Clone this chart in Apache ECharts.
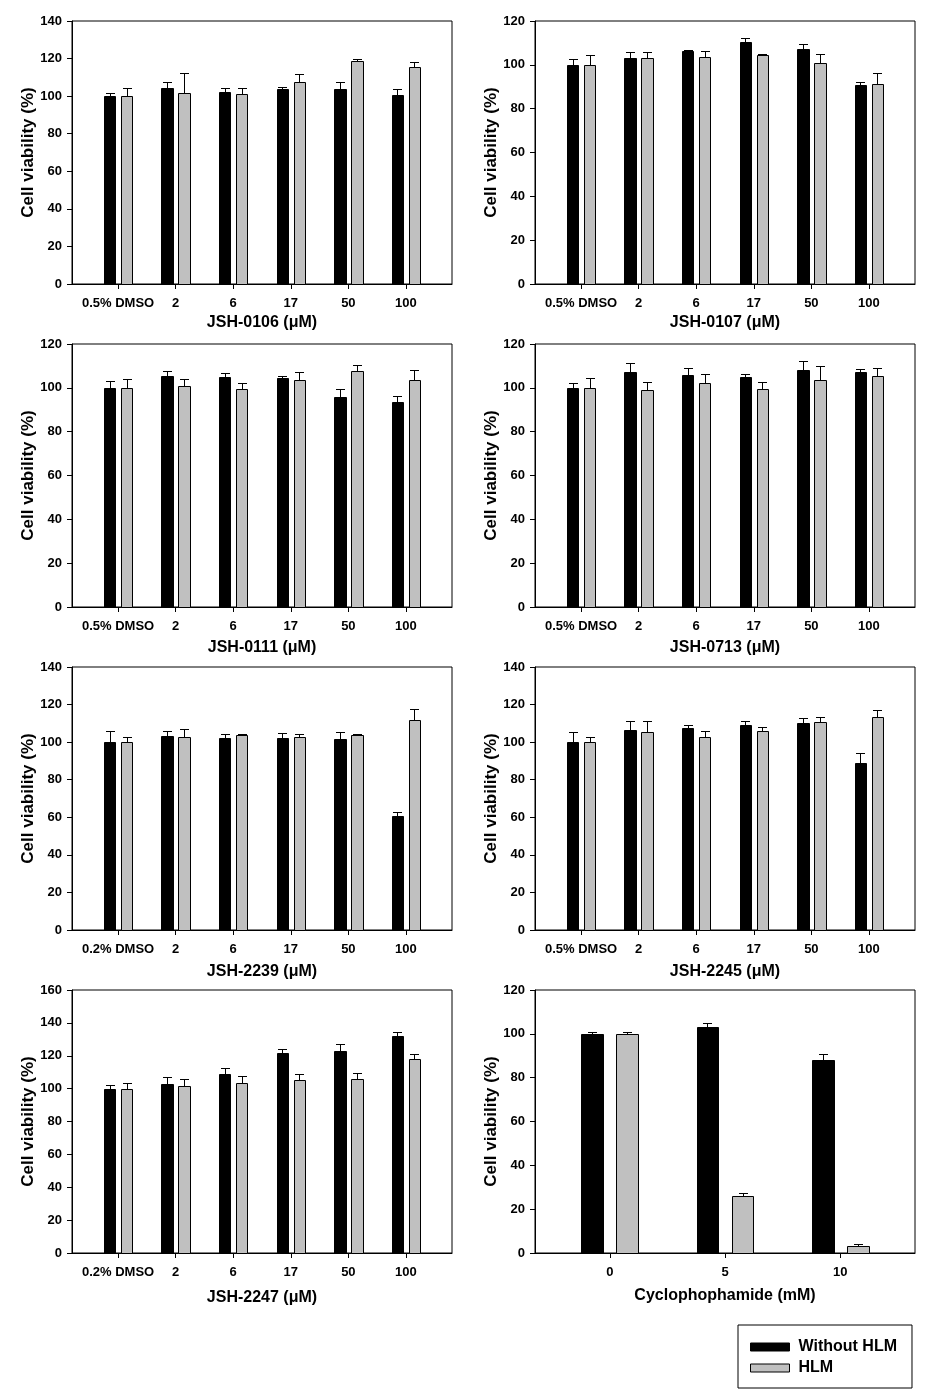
<!DOCTYPE html>
<html><head><meta charset="utf-8">
<script src="https://cdn.jsdelivr.net/npm/echarts@6/dist/echarts.min.js"></script>
<style>html,body{margin:0;padding:0;background:#fff}#c{width:936px;height:1399px}</style>
</head><body><div id="c"></div>
<script>
// ---------- data ----------
const cats05 = ['0.5% DMSO', '2', '6', '17', '50', '100'];
const cats02 = ['0.2% DMSO', '2', '6', '17', '50', '100'];
const catsCyclo = ['0', '5', '10'];
const seriesNames = ['Without HLM', 'HLM'];

const jsh0106Without = [100, 104.5, 102.4, 103.8, 103.8, 100.6];
const jsh0106WithoutErr = [1.5, 3, 1.9, 1.1, 3.7, 3];
const jsh0106Hlm = [100, 101.7, 101.1, 107.5, 118.7, 115.5];
const jsh0106HlmErr = [4.2, 10.6, 3, 4.3, 0.9, 2.7];

const jsh0107Without = [100, 103.1, 106.5, 110.4, 107.2, 90.8];
const jsh0107WithoutErr = [2.7, 2.8, 0.2, 1.7, 2.3, 1.4];
const jsh0107Hlm = [100, 103.1, 103.6, 104.5, 100.8, 91.3];
const jsh0107HlmErr = [4.5, 2.8, 2.6, 0.3, 4.1, 5];

const jsh0111Without = [100, 105.4, 104.9, 104.6, 95.8, 93.5];
const jsh0111WithoutErr = [3.1, 2.3, 1.9, 0.8, 3.7, 2.8];
const jsh0111Hlm = [100, 100.8, 99.5, 103.6, 107.7, 103.6];
const jsh0111HlmErr = [4, 3.2, 2.6, 3.6, 2.7, 4.5];

const jsh0713Without = [100, 107.2, 105.9, 104.9, 108.1, 107.2];
const jsh0713WithoutErr = [2.2, 4.1, 3, 1.2, 4.1, 1.2];
const jsh0713Hlm = [100, 99, 102.2, 99.5, 103.6, 105.4];
const jsh0713HlmErr = [4.5, 3.7, 4.1, 3.2, 6.4, 3.5];

const jsh2239Without = [100, 103.2, 102.1, 102.1, 101.6, 60.8];
const jsh2239WithoutErr = [5.9, 2.7, 2.2, 2.7, 3.7, 1.9];
const jsh2239Hlm = [100, 102.7, 103.7, 102.7, 103.7, 111.7];
const jsh2239HlmErr = [3, 4.1, 0.4, 1.6, 0.9, 5.9];

const jsh2245Without = [100, 106.5, 107.5, 109.1, 110.2, 88.9];
const jsh2245WithoutErr = [5.3, 4.7, 1.4, 2, 2.6, 5.1];
const jsh2245Hlm = [100, 105.4, 102.7, 105.9, 110.7, 113.4];
const jsh2245HlmErr = [3, 5.8, 3.2, 2, 2.5, 3.5];

const jsh2247Without = [100, 102.8, 108.9, 121.7, 122.9, 132];
const jsh2247WithoutErr = [2.4, 4, 3.7, 2.4, 4.3, 2.4];
const jsh2247Hlm = [100, 101.4, 103.4, 105.3, 105.9, 118];
const jsh2247HlmErr = [3.4, 4.5, 4.1, 3.4, 3.6, 3];

const cycloWithout = [100, 103.1, 88.1];
const cycloWithoutErr = [0.9, 1.8, 2.7];
const cycloHlm = [100, 26, 3.2];
const cycloHlmErr = [0.9, 1.5, 0.9];

const yTitle = 'Cell viability (%)';
const xTitles = ['JSH-0106 (μM)', 'JSH-0107 (μM)', 'JSH-0111 (μM)', 'JSH-0713 (μM)',
                 'JSH-2239 (μM)', 'JSH-2245 (μM)', 'JSH-2247 (μM)', 'Cyclophophamide (mM)'];
const yMax = [140, 120, 120, 120, 140, 140, 160, 120];

const panels = [
  {cats: cats05, w: jsh0106Without, we: jsh0106WithoutErr, h: jsh0106Hlm, he: jsh0106HlmErr},
  {cats: cats05, w: jsh0107Without, we: jsh0107WithoutErr, h: jsh0107Hlm, he: jsh0107HlmErr},
  {cats: cats05, w: jsh0111Without, we: jsh0111WithoutErr, h: jsh0111Hlm, he: jsh0111HlmErr},
  {cats: cats05, w: jsh0713Without, we: jsh0713WithoutErr, h: jsh0713Hlm, he: jsh0713HlmErr},
  {cats: cats02, w: jsh2239Without, we: jsh2239WithoutErr, h: jsh2239Hlm, he: jsh2239HlmErr},
  {cats: cats05, w: jsh2245Without, we: jsh2245WithoutErr, h: jsh2245Hlm, he: jsh2245HlmErr},
  {cats: cats02, w: jsh2247Without, we: jsh2247WithoutErr, h: jsh2247Hlm, he: jsh2247HlmErr},
  {cats: catsCyclo, w: cycloWithout, we: cycloWithoutErr, h: cycloHlm, he: cycloHlmErr}
];

// ---------- layout / style ----------
const FONT = '"Liberation Sans", Arial, sans-serif';
const colLeft = [72, 535];
const rowTop = [21, 344, 667, 990];
const gridW = 380, gridH = 263;
const xNameGap = [31, 31, 33, 33, 34, 34, 37, 35];
const colors = ['#000000', '#c0c0c0'];

function makeRender(offset, width, color) {
  return function (params, api) {
    const x = api.value(0) + offset;
    const v = api.value(1);
    const e = api.value(2);
    const pL = api.coord([x - width / 2, 0]);
    const pR = api.coord([x + width / 2, v]);
    const pc = api.coord([x, v]);
    const pe = api.coord([x, v + e]);
    const x0 = Math.round(pL[0]) + 0.5, x1 = Math.round(pR[0]) + 0.5;
    const yb = Math.round(pL[1]) + 0.5, yt = Math.round(pR[1]) + 0.5;
    const xc = Math.round(pc[0]) + 0.5;
    const ye = Math.round(pe[1]) + 0.5;
    return {
      type: 'group',
      children: [
        {type: 'line', shape: {x1: xc, y1: yt, x2: xc, y2: ye}, style: {stroke: '#000', lineWidth: 1}},
        {type: 'line', shape: {x1: xc - 4.5, y1: ye, x2: xc + 4.5, y2: ye}, style: {stroke: '#000', lineWidth: 1}},
        {type: 'rect', shape: {x: x0, y: yt, width: x1 - x0, height: yb - yt},
         style: {fill: color, stroke: '#000', lineWidth: 1}}
      ]
    };
  };
}

const grids = [], xAxes = [], yAxes = [], series = [];
panels.forEach((p, i) => {
  const col = i % 2, row = Math.floor(i / 2);
  const n = p.cats.length;
  const pad = n === 3 ? 0.65 : 0.8;
  const barW = n === 3 ? 0.19 : 0.2;
  const off = n === 3 ? 0.152 : 0.148;
  grids.push({left: colLeft[col], top: rowTop[row], width: gridW, height: gridH,
    show: true, borderColor: '#000', borderWidth: 1, backgroundColor: 'transparent'});
  const idx = p.cats.map((c, k) => k);
  xAxes.push({
    type: 'value', gridIndex: i, min: -pad, max: n - 1 + pad, position: 'bottom',
    name: xTitles[i], nameLocation: 'middle', nameGap: xNameGap[i],
    nameTextStyle: {fontFamily: FONT, fontWeight: 'bold', fontSize: 16, color: '#000'},
    axisLine: {show: true, onZero: false, lineStyle: {color: '#000', width: 1}},
    axisTick: {show: true, inside: false, length: 5, lineStyle: {color: '#000'}, customValues: idx},
    axisLabel: {show: true, customValues: idx, margin: 13, fontFamily: FONT, fontWeight: 'bold', fontSize: 13, color: '#000',
      formatter: (val) => p.cats[Math.round(val)]},
    splitLine: {show: false}
  });
  yAxes.push({
    type: 'value', gridIndex: i, min: 0, max: yMax[i], interval: 20, position: 'left',
    name: yTitle, nameLocation: 'middle', nameGap: 34, nameRotate: 90,
    nameTextStyle: {fontFamily: FONT, fontWeight: 'bold', fontSize: 17, color: '#000'},
    axisLine: {show: true, onZero: false, lineStyle: {color: '#000', width: 1}},
    axisTick: {show: true, inside: false, length: 5, lineStyle: {color: '#000'}},
    axisLabel: {margin: 10, fontFamily: FONT, fontWeight: 'bold', fontSize: 13, color: '#000'},
    splitLine: {show: false}
  });
  [[p.w, p.we], [p.h, p.he]].forEach((pair, s) => {
    const data = pair[0].map((v, k) => [k, v, pair[1][k]]);
    series.push({
      type: 'custom', name: seriesNames[s], xAxisIndex: i, yAxisIndex: i,
      itemStyle: {color: colors[s]},
      renderItem: makeRender(s === 0 ? -off : off, barW, colors[s]),
      encode: {x: 0, y: 1},
      data: data, silent: true, animation: false, clip: false
    });
  });
});

const chart = echarts.init(document.getElementById('c'), null, {renderer: 'canvas'});
chart.setOption({
  backgroundColor: '#fff',
  animation: false,
  grid: grids, xAxis: xAxes, yAxis: yAxes, series: series,
  legend: {
    orient: 'vertical', left: 738, top: 1325,
    padding: [14, 15, 12, 12], itemGap: 5,
    borderColor: '#000', borderWidth: 1,
    itemWidth: 39, itemHeight: 8, selectedMode: false,
    textStyle: {fontFamily: FONT, fontWeight: 'bold', fontSize: 16, color: '#000', lineHeight: 16, padding: [0, 0, 0, 4]},
    data: [
      {name: seriesNames[0], icon: 'rect', itemStyle: {color: colors[0], borderColor: '#000', borderWidth: 1}},
      {name: seriesNames[1], icon: 'rect', itemStyle: {color: colors[1], borderColor: '#000', borderWidth: 1}}
    ]
  }
});
</script></body></html>
